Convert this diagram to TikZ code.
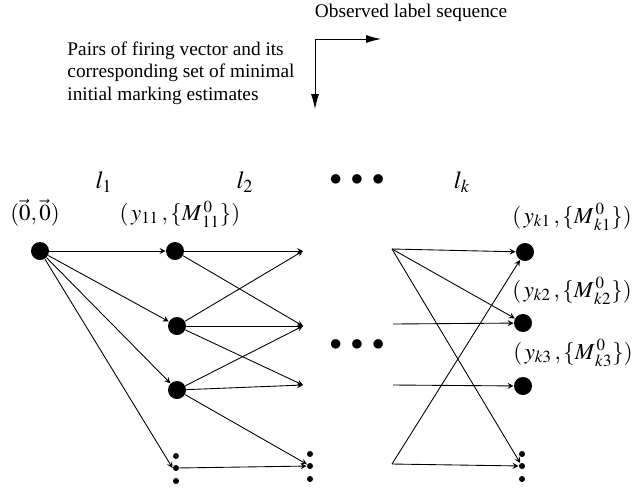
\documentclass[tikz,border=0pt]{standalone}
\usepackage{mathptmx}
\usepackage[no-math]{fontspec}
\setmainfont{Liberation Serif}
\usetikzlibrary{arrows, arrows.meta, positioning}

\begin{document}
\begin{tikzpicture}[->, >=stealth, x=0.02cm, y=-0.02cm, line width=0.5pt]
		\tikzstyle{state}=[circle, fill, inner sep=0pt, minimum size=0.36cm]
		\tikzstyle{dot}=[circle, fill, inner sep=0pt, minimum size=0.12cm]
		\tikzstyle{pair}=[font=\fontsize{13}{15}\selectfont]
		\tikzstyle{level}=[font=\fontsize{14}{16}\selectfont]
		\tikzstyle{caption}=[font=\fontsize{11}{13}\selectfont, inner sep=0pt]
		\tikzstyle{axis}=[-{Latex[length=0.3cm, width=0.16cm]}]

		\useasboundingbox (0,0) rectangle (644,494);

		% axes
		\node[caption] (obs) at (411,13) {Observed label sequence};
		\node[caption, align=left, anchor=north west] (pairs) at (67,41) {Pairs of firing vector and its\\ corresponding set of minimal\\ initial marking estimates};
		\coordinate (corner) at (315,39);
		\coordinate (seqend) at (381,39);
		\coordinate (setend) at (315,109);
		\draw[axis] (corner) -- (seqend);
		\draw[axis] (corner) -- (setend);

		% labels of the sequence
		\node[level] (l1) at (104,182) {$l_1$};
		\node[level] (l2) at (245,182) {$l_2$};
		\node[level] (lk) at (462,182) {$l_k$};
		\node[level] (gap1) at (357,180) {$\bullet\;\bullet\;\bullet$};
		\node[level] (gap2) at (357,345) {$\bullet\;\bullet\;\bullet$};

		% first column
		\node[state] (S0) at (40,251) {};
		\node[pair] (p0) at (35,213) {$(\vec{0},\vec{0})$};
		\node[state] (Y11) at (175,251) {};
		\node[state] (Y12) at (177,326) {};
		\node[state] (Y13) at (177,390) {};
		\node[pair] (p11) at (180,214) {$(\,y_{11}\,,\{M^{\,0}_{\,11}\})$};
		\node[dot] (D1a) at (176,456) {};
		\node[dot] (D1b) at (176,468) {};
		\node[dot] (D1c) at (176,481) {};

		% second column
		\coordinate (C1) at (303,251);
		\coordinate (C2) at (303,326);
		\coordinate (C3) at (303,385);
		\node[dot] (D2a) at (310,454) {};
		\node[dot] (D2b) at (310,466) {};
		\node[dot] (D2c) at (310,479) {};

		% last column
		\coordinate (K1) at (392,249);
		\coordinate (K2) at (393,324);
		\coordinate (K3) at (393,385);
		\coordinate (K4) at (392,464);
		\node[state] (Yk1) at (525,252) {};
		\node[state] (Yk2) at (523,323) {};
		\node[state] (Yk3) at (523,386) {};
		\node[pair] (pk1) at (572,217) {$(\,y_{k1}\,,\{M^{\,0}_{\,k1}\})$};
		\node[pair] (pk2) at (572,291) {$(\,y_{k2}\,,\{M^{\,0}_{\,k2}\})$};
		\node[pair] (pk3) at (573,353) {$(\,y_{k3}\,,\{M^{\,0}_{\,k3}\})$};
		\node[dot] (Dka) at (522,454) {};
		\node[dot] (Dkb) at (522,466) {};
		\node[dot] (Dkc) at (522,479) {};

		\path
		(S0) edge (Y11)
		(S0) edge (Y12)
		(S0) edge (Y13)
		(S0) edge (D1b.west)
		(Y11) edge (C1)
		(Y11) edge (C2)
		(Y12) edge (C1)
		(Y12) edge (C2)
		(Y12) edge (C3)
		(Y13) edge (C2)
		(Y13) edge (C3)
		(Y13) edge (D2b)
		(D1b) edge (D2b)
		(K1) edge (Yk1)
		(K1) edge (Yk2)
		(K1) edge (Dkb)
		(K2) edge (Yk2)
		(K3) edge (Yk3)
		(K4) edge (Dkb)
		(K4) edge (Yk1);
	\end{tikzpicture}
\end{document}
